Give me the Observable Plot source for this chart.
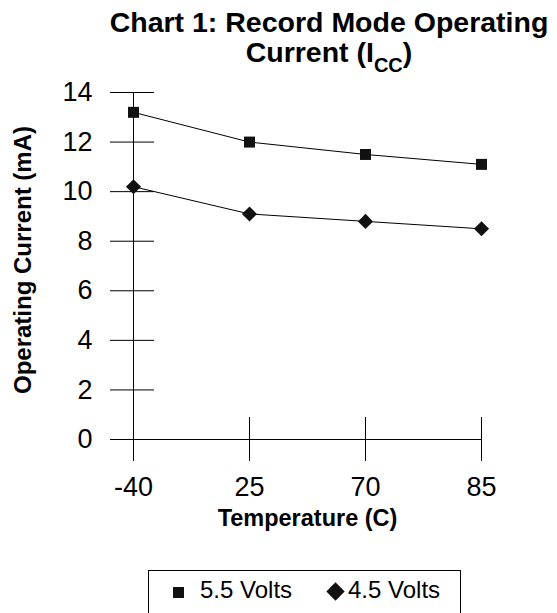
<!DOCTYPE html>
<html><head><meta charset="utf-8">
<script src="https://cdn.jsdelivr.net/npm/d3@7"></script>
<script src="https://cdn.jsdelivr.net/npm/@observablehq/plot@0.6"></script>
<style>
body{margin:0;background:#fff;font-family:"Liberation Sans",Arial,sans-serif;width:557px;height:613px;overflow:hidden;position:relative;color:#000}
#title{position:absolute;left:0;top:7px;width:557px;padding-left:101px;box-sizing:border-box;text-align:center;font-weight:bold;font-size:28.5px;line-height:30px;white-space:nowrap}
#title .sub{font-size:20px;position:relative;top:10px}
#chart{position:absolute;left:0;top:72px}
#legend{position:absolute;left:148px;top:570px;width:313px;height:60px;border:1px solid #000;box-sizing:border-box;font-size:24px;line-height:24px}
#legend .t{position:absolute;top:7px;white-space:nowrap}
#legend .sq{position:absolute;left:24px;top:16px;width:11px;height:11px;background:#111}
#legend .dm{position:absolute;left:180px;top:14px;width:13px;height:13px;background:#111;transform:rotate(45deg)}
</style></head><body>
<div id="title">Chart 1: Record Mode Operating<br>Current (I<span class="sub">CC</span>)</div>
<div id="chart"></div>
<div id="legend"></div>
<script>
const temperatures = ["-40", "25", "70", "85"];
const volts55 = [13.2, 12.0, 11.5, 11.1];
const volts45 = [10.2, 9.1, 8.8, 8.5];
const yTicks = [0, 2, 4, 6, 8, 10, 12, 14];
const seriesNames = ["5.5 Volts", "4.5 Volts"];
const xTitle = "Temperature (C)";
const yTitle = "Operating Current (mA)";

const rows55 = temperatures.map((t, i) => ({temp: t, value: volts55[i], series: seriesNames[0]}));
const rows45 = temperatures.map((t, i) => ({temp: t, value: volts45[i], series: seriesNames[1]}));

const chart = Plot.plot({
  width: 557,
  height: 480,
  marginLeft: 132,
  marginRight: 75,
  marginTop: 20,
  marginBottom: 113,
  style: {fontFamily: "'Liberation Sans', Arial, sans-serif", color: "#000", background: "#fff", overflow: "visible"},
  x: {type: "point", domain: temperatures, padding: 0},
  y: {type: "linear", domain: [0, 14]},
  marks: [
    Plot.axisY({ticks: yTicks, tickSize: 22, tickPadding: 18, fontSize: 27, label: null, stroke: "#000", fill: "#000"}),
    Plot.axisY({ticks: yTicks, tickSize: 22, dx: 22, fill: "none", label: null, stroke: "#000"}),
    Plot.axisX({tickSize: 22, tickPadding: 15, fontSize: 27, label: null, stroke: "#000", fill: "#000"}),
    Plot.axisX({tickSize: 22, dy: -22, fill: "none", label: null, stroke: "#000"}),
    Plot.ruleX([temperatures[0]], {stroke: "#000", insetBottom: -22}),
    Plot.ruleY([0], {stroke: "#000", insetLeft: -22}),
    Plot.line(rows55, {x: "temp", y: "value", stroke: "#000", strokeWidth: 1}),
    Plot.line(rows45, {x: "temp", y: "value", stroke: "#000", strokeWidth: 1}),
    Plot.dot(rows55, {x: "temp", y: "value", symbol: "square", r: 6.2, fill: "#111", stroke: "none"}),
    Plot.dot(rows45, {x: "temp", y: "value", symbol: "diamond2", r: 6.8, fill: "#111", stroke: "none"}),
    Plot.text([xTitle], {frameAnchor: "bottom", dy: 86, fontSize: 23.5, fontWeight: "bold", fill: "#000"}),
    Plot.text([yTitle], {frameAnchor: "left", textAnchor: "middle", rotate: -90, dx: -109, dy: -6, fontSize: 24, fontWeight: "bold", fill: "#000"})
  ]
});
document.getElementById("chart").appendChild(chart);

const legend = document.getElementById("legend");
legend.innerHTML =
  `<div class="sq"></div><div class="t" style="left:51px">${seriesNames[0]}</div>` +
  `<div class="dm"></div><div class="t" style="left:199px">${seriesNames[1]}</div>`;
</script>
</body></html>
